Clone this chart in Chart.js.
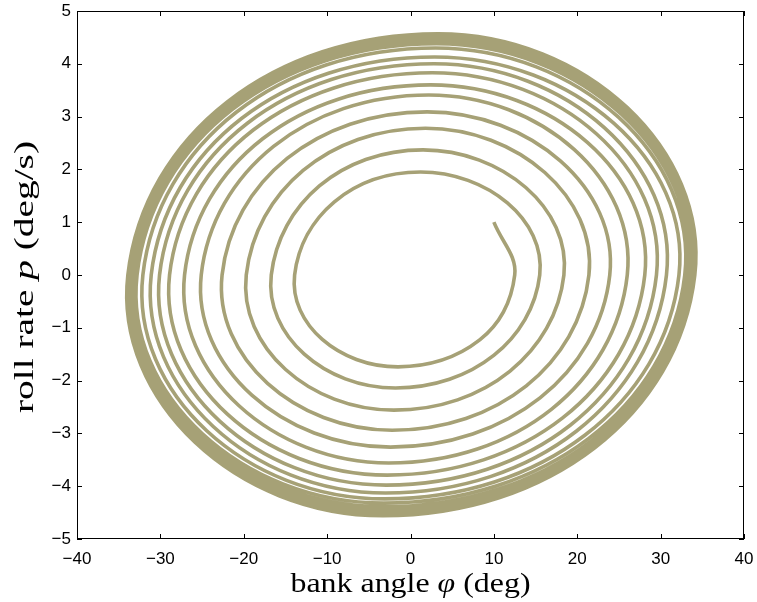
<!DOCTYPE html>
<html>
<head>
<meta charset="utf-8">
<script src="https://cdn.jsdelivr.net/npm/chart.js@4"></script>
<style>
  html, body { margin: 0; padding: 0; background: #fff; overflow: hidden; }
  canvas { display: block; }
</style>
</head>
<body>
<canvas id="c" width="757" height="602"></canvas>
<script>
// Roll-mode trajectory: starts near (10 deg, 1 deg/s) and spirals out to a limit cycle.
// The opening quarter turn is given finely; every later turn by its extremes:
// bottom peak, left crossing of p = 0, top peak, then the right crossing that closes the turn.
const startPoint = [10.0, 1.0];
const firstRight = [12.5, 0.0];
const firstLowerRight = [8.3, -1.23];
const firstLowerLeft = [-11.1, -1.25];
const bottomX = [-1.5, -1.8, -2.0, -2.2, -2.4, -2.6, -2.8, -2.9, -3.0, -3.1, -3.2, -3.2, -3.3, -3.3, -3.3, -3.3];
const bottomP = [-1.74, -2.14, -2.56, -2.94, -3.26, -3.56, -3.79, -3.98, -4.13, -4.24, -4.32, -4.39, -4.45, -4.50, -4.53, -4.56];
const leftX   = [-13.9, -16.7, -19.7, -22.6, -25.1, -27.1, -28.9, -30.1, -31.1, -32.1, -32.8, -33.2, -33.5, -33.7, -33.8, -33.9];
const topX    = [1.2, 1.5, 1.8, 2.0, 2.2, 2.4, 2.6, 2.8, 2.9, 3.0, 3.1, 3.2, 3.2, 3.3, 3.3, 3.3];
const topP    = [1.95, 2.37, 2.78, 3.09, 3.41, 3.60, 3.83, 4.00, 4.13, 4.30, 4.38, 4.44, 4.49, 4.52, 4.55, 4.57];
const rightX  = [15.5, 18.4, 21.4, 23.9, 26.0, 28.1, 29.5, 30.7, 32.2, 32.9, 33.3, 33.6, 33.8, 34.0, 34.1, 34.1];
// next bottom on the limit cycle: steers the curve into the last right crossing
const tailGuide = [-3.3, -4.56];

const xTicks = [-40, -30, -20, -10, 0, 10, 20, 30, 40];
const yTicks = [-5, -4, -3, -2, -1, 0, 1, 2, 3, 4, 5];

const lineColor = '#a6a176';
const tickFont = { family: '"Liberation Sans", Arial, sans-serif', size: 17 };
const titleFamily = '"Liberation Serif", "Times New Roman", serif';

const pt = a => ({ x: a[0], y: a[1] });

// opening arc: start -> first right crossing -> first bottom (last point only guides the tangent)
const headPoints = [pt(startPoint), pt(firstRight), pt(firstLowerRight),
                    { x: bottomX[0], y: bottomP[0] }, pt(firstLowerLeft)];

// main spiral from the first bottom on (first point only guides the tangent)
const spiralPoints = [pt(firstRight)];
for (let k = 0; k < bottomX.length; k++) {
  spiralPoints.push({ x: bottomX[k], y: bottomP[k] });
  spiralPoints.push({ x: leftX[k], y: 0 });
  spiralPoints.push({ x: topX[k], y: topP[k] });
  spiralPoints.push({ x: rightX[k], y: 0 });
}
spiralPoints.push(pt(tailGuide));

const hidden = 'rgba(0,0,0,0)';
const minusFmt = v => String(v).replace('-', '\u2212');

// draws a string made of parts with different font styles, centred at the origin
function drawParts(ctx, parts, targetWidth) {
  let total = 0;
  const widths = parts.map(p => { ctx.font = p.f; const w = ctx.measureText(p.t).width; total += w; return w; });
  const sx = targetWidth / total;
  ctx.scale(sx, 1);
  let x = -total / 2;
  parts.forEach((p, i) => { ctx.font = p.f; ctx.fillText(p.t, x, 0); x += widths[i]; });
}

const framePlugin = {
  id: 'frame',
  afterDraw(chart) {
    const { ctx, chartArea: a, scales } = chart;
    ctx.save();
    ctx.strokeStyle = '#000';
    ctx.lineWidth = 1;
    ctx.strokeRect(Math.round(a.left) + 0.5, Math.round(a.top) + 0.5,
                   Math.round(a.right - a.left) - 1, Math.round(a.bottom - a.top) - 1);
    const tl = 5;
    ctx.beginPath();
    xTicks.forEach(v => {
      const px = Math.round(scales.x.getPixelForValue(v)) + 0.5;
      ctx.moveTo(px, a.bottom); ctx.lineTo(px, a.bottom - tl);
      ctx.moveTo(px, a.top); ctx.lineTo(px, a.top + tl);
    });
    yTicks.forEach(v => {
      const py = Math.round(scales.y.getPixelForValue(v)) + 0.5;
      ctx.moveTo(a.left, py); ctx.lineTo(a.left + tl, py);
      ctx.moveTo(a.right, py); ctx.lineTo(a.right - tl, py);
    });
    ctx.stroke();

    // axis titles
    ctx.fillStyle = '#000';
    ctx.textBaseline = 'alphabetic';
    const fs = 27;
    const up = `${fs}px ${titleFamily}`;
    const it = `italic ${fs}px ${titleFamily}`;
    ctx.save();
    ctx.translate((a.left + a.right) / 2, 592);
    drawParts(ctx, [{ t: 'bank angle ', f: up }, { t: '\u03C6', f: it }, { t: ' (deg)', f: up }], 240);
    ctx.restore();
    ctx.save();
    ctx.translate(33, 277);
    ctx.rotate(-Math.PI / 2);
    drawParts(ctx, [{ t: 'roll rate ', f: up }, { t: 'p', f: it }, { t: ' (deg/s)', f: up }], 272);
    ctx.restore();
    ctx.restore();
  }
};

const lineStyle = {
  showLine: true,
  borderColor: lineColor,
  backgroundColor: lineColor,
  borderWidth: 3.6,
  pointRadius: 0,
  borderJoinStyle: 'round',
  borderCapStyle: 'butt'
};

new Chart(document.getElementById('c'), {
  type: 'scatter',
  data: {
    datasets: [
      Object.assign({}, lineStyle, {
        data: headPoints,
        tension: 0.38,
        segment: { borderColor: c => (c.p1DataIndex === headPoints.length - 1 ? hidden : undefined) }
      }),
      Object.assign({}, lineStyle, {
        data: spiralPoints,
        tension: 0.55,
        segment: {
          borderColor: c => (c.p0DataIndex === 0 || c.p1DataIndex === spiralPoints.length - 1 ? hidden : undefined)
        }
      })
    ]
  },
  options: {
    responsive: false,
    animation: false,
    devicePixelRatio: 1,
    layout: { padding: { top: 11, right: 13, left: 0, bottom: 0 } },
    plugins: { legend: { display: false }, tooltip: { enabled: false } },
    scales: {
      x: {
        type: 'linear', min: -40, max: 40,
        afterBuildTicks: s => { s.ticks = xTicks.map(v => ({ value: v })); },
        afterFit: s => { s.height = 63; s.paddingLeft = 0; s.paddingRight = 0; },
        grid: { display: false, drawTicks: false },
        border: { display: false },
        ticks: { color: '#000', font: tickFont, padding: 10, maxRotation: 0, autoSkip: false, callback: minusFmt }
      },
      y: {
        type: 'linear', min: -5, max: 5,
        afterBuildTicks: s => { s.ticks = yTicks.map(v => ({ value: v })); },
        afterFit: s => { s.width = 77; s.paddingTop = 0; s.paddingBottom = 0; },
        grid: { display: false, drawTicks: false },
        border: { display: false },
        ticks: { color: '#000', font: tickFont, padding: 6, autoSkip: false, callback: minusFmt }
      }
    }
  },
  plugins: [framePlugin]
});
</script>
</body>
</html>
